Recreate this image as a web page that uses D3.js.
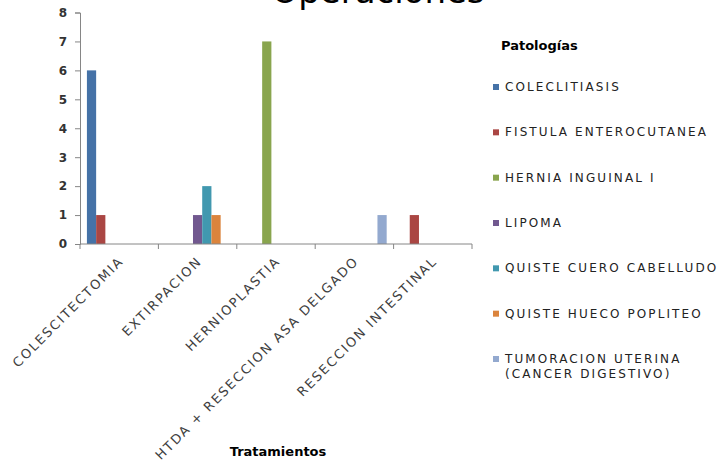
<!DOCTYPE html>
<html>
<head>
<meta charset="utf-8">
<script src="https://cdn.jsdelivr.net/npm/d3@7"></script>
<style>
  body { margin: 0; background: #fff; }
  text { font-family: "DejaVu Sans", sans-serif; }
</style>
</head>
<body>
<div id="canvas"></div>
<script>
// data
const tratamientos = ["COLESCITECTOMIA", "EXTIRPACION", "HERNIOPLASTIA", "HTDA + RESECCION ASA DELGADO", "RESECCION INTESTINAL"];
const patologias = ["COLECLITIASIS", "FISTULA ENTEROCUTANEA", "HERNIA INGUINAL I", "LIPOMA", "QUISTE CUERO CABELLUDO", "QUISTE HUECO POPLITEO", "TUMORACION UTERINA (CANCER DIGESTIVO)"];
const coleclitiasis = [6, 0, 0, 0, 0];
const fistula       = [1, 0, 0, 0, 1];
const hernia        = [0, 0, 7, 0, 0];
const lipoma        = [0, 1, 0, 0, 0];
const quisteCuero   = [0, 2, 0, 0, 0];
const quisteHueco   = [0, 1, 0, 0, 0];
const tumoracion    = [0, 0, 0, 1, 0];
const yTicks = [0, 1, 2, 3, 4, 5, 6, 7, 8];

const series = [coleclitiasis, fistula, hernia, lipoma, quisteCuero, quisteHueco, tumoracion];
const colors = ["#4572A7", "#AA4643", "#89A54E", "#71588F", "#4198AF", "#DB843D", "#93A9CF"];

const w = 720, h = 465;
const plotL = 80, plotR = 472, plotT = 12.5, plotB = 244;

const svg = d3.select("#canvas").append("svg").attr("width", w).attr("height", h);

// title, mostly clipped off the top (as in the original)
svg.append("text").text("Operaciones")
   .attr("x", 378).attr("y", 2.5).attr("text-anchor", "middle")
   .attr("font-size", 34).attr("fill", "#000");

const x0 = d3.scaleBand().domain(tratamientos).range([plotL, plotR]);
// excel gap width 150%: 7 bars + 1.5 bar of gap in each category
const barW = x0.bandwidth() / 8.5;
const x1 = d3.scaleBand().domain(d3.range(patologias.length))
   .range([barW * 0.75, x0.bandwidth() - barW * 0.75]);
const y = d3.scaleLinear().domain([0, 8]).range([plotB, plotT]);

const cells = [];
series.forEach((s, si) => s.forEach((v, ci) => { if (v > 0) cells.push({ si, ci, v }); }));

svg.append("g").selectAll("rect").data(cells).enter().append("rect")
   .attr("x", d => x0(tratamientos[d.ci]) + x1(d.si))
   .attr("y", d => y(d.v))
   .attr("width", x1.bandwidth())
   .attr("height", d => y(0) - y(d.v))
   .attr("fill", d => colors[d.si]);

// y axis
const yAxis = d3.axisLeft(y).tickValues(yTicks).tickSize(5).tickPadding(8);
const gy = svg.append("g").attr("transform", "translate(" + plotL + ",0)").call(yAxis);
gy.select(".domain").attr("stroke", "#868686");
gy.selectAll(".tick line").attr("stroke", "#868686");
gy.selectAll(".tick text").attr("font-size", 12).attr("font-weight", "bold").attr("fill", "#333");

// x axis with ticks at category boundaries
const gx = svg.append("g").attr("transform", "translate(0," + plotB + ")");
gx.append("line").attr("x1", plotL).attr("x2", plotR).attr("stroke", "#868686");
const bounds = tratamientos.map(t => x0(t)).concat([plotR]);
gx.selectAll(".tk").data(bounds).enter().append("line")
   .attr("x1", d => d).attr("x2", d => d).attr("y1", 0).attr("y2", 5).attr("stroke", "#868686");
gx.selectAll(".lbl").data(tratamientos).enter().append("text")
   .attr("transform", d => "translate(" + (x0(d) + x0.bandwidth() / 2 + 5) + ",18) rotate(-45)")
   .attr("text-anchor", "end").attr("font-size", 13).attr("letter-spacing", 1.8).attr("fill", "#404040")
   .text(d => d);

svg.append("text").text("Tratamientos")
   .attr("x", 278).attr("y", 456).attr("text-anchor", "middle")
   .attr("font-size", 13).attr("font-weight", "bold").attr("fill", "#000");

// legend
svg.append("text").text("Patologías")
   .attr("x", 501).attr("y", 50).attr("font-size", 13).attr("font-weight", "bold").attr("fill", "#000");

const legendY = d3.scalePoint().domain(patologias).range([87, 359]);
const lg = svg.append("g").selectAll("g").data(patologias).enter().append("g")
   .attr("transform", d => "translate(493," + legendY(d) + ")");
lg.append("rect").attr("x", 0).attr("y", -3).attr("width", 6).attr("height", 6)
   .attr("fill", (d, i) => colors[i]);
lg.each(function (d) {
  const g = d3.select(this);
  const parts = d === "TUMORACION UTERINA (CANCER DIGESTIVO)" ? ["TUMORACION UTERINA", "(CANCER DIGESTIVO)"] : [d];
  parts.forEach((p, k) => {
    g.append("text").text(p).attr("x", 12).attr("y", 4 + k * 15)
     .attr("font-size", 12).attr("letter-spacing", 2.1).attr("fill", "#222");
  });
});
</script>
</body>
</html>
